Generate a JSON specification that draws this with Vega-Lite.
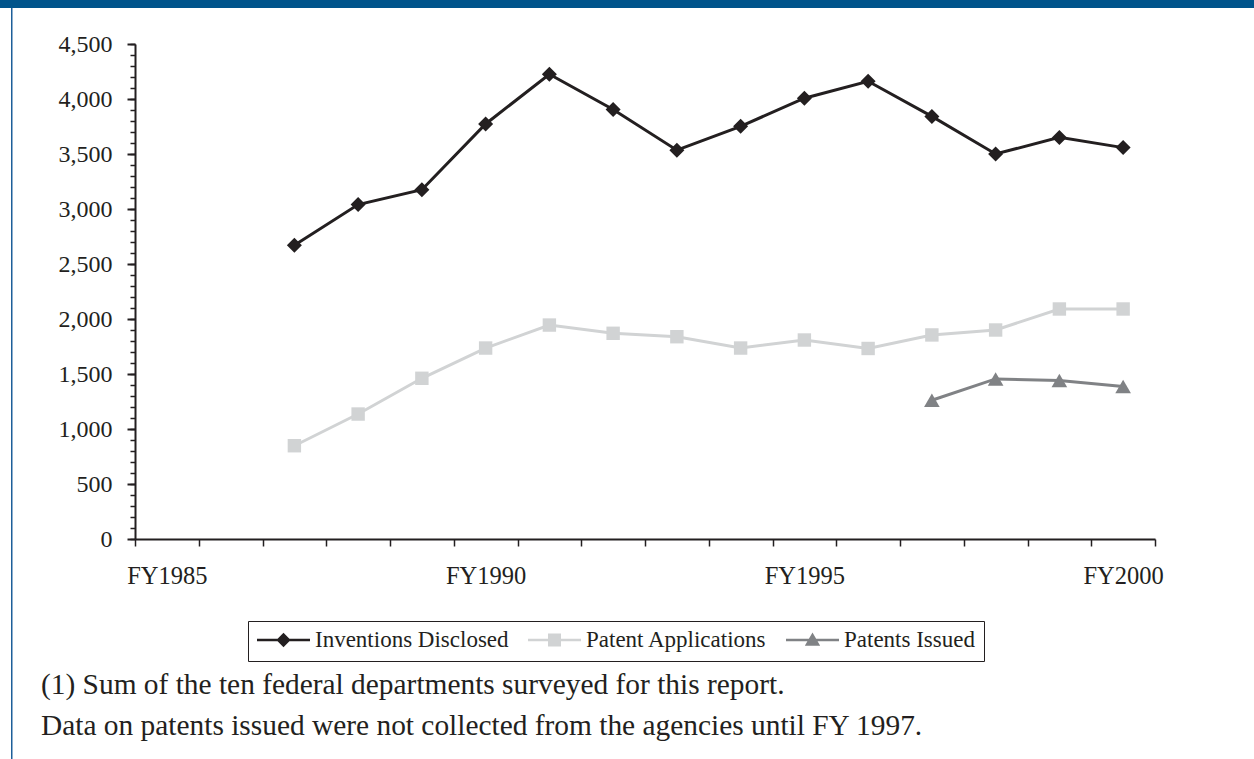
{
  "$schema": "https://vega.github.io/schema/vega-lite/v6.json",
  "padding": 0,
  "background": "white",
  "spacing": 0,
  "config": {"view": {"stroke": null}, "font": "Liberation Serif"},
  "vconcat": [
    {"width": 1254, "height": 8, "data": {"values": [{}]}, "mark": {"type": "text", "text": "", "fontSize": 1, "clip": true}, "encoding": {}, "view": {"fill": "#00548b", "stroke": null}},
    {
      "spacing": 0,
      "hconcat": [
        {"width": 11, "height": 751, "data": {"values": [{}]}, "mark": {"type": "text", "text": "", "fontSize": 1, "clip": true}, "encoding": {}},
        {"width": 1.5, "height": 751, "data": {"values": [{}]}, "mark": {"type": "text", "text": "", "fontSize": 1, "clip": true}, "encoding": {}, "view": {"fill": "#1d5f99", "stroke": null}},
        {"width": 27.5, "height": 751, "data": {"values": [{}]}, "mark": {"type": "text", "text": "", "fontSize": 1, "clip": true}, "encoding": {}},
        {
          "spacing": 0,
          "vconcat": [
            {"width": 1, "height": 23.5, "data": {"values": [{}]}, "mark": {"type": "text", "text": "", "fontSize": 1, "clip": true}, "encoding": {}},
            {
              "width": 1020,
              "height": 495,
              "data": {"values": [
                {"year": "FY1987", "series": "Inventions Disclosed", "value": 2670},
                {"year": "FY1988", "series": "Inventions Disclosed", "value": 3040},
                {"year": "FY1989", "series": "Inventions Disclosed", "value": 3175},
                {"year": "FY1990", "series": "Inventions Disclosed", "value": 3773},
                {"year": "FY1991", "series": "Inventions Disclosed", "value": 4225},
                {"year": "FY1992", "series": "Inventions Disclosed", "value": 3905},
                {"year": "FY1993", "series": "Inventions Disclosed", "value": 3535},
                {"year": "FY1994", "series": "Inventions Disclosed", "value": 3752},
                {"year": "FY1995", "series": "Inventions Disclosed", "value": 4007},
                {"year": "FY1996", "series": "Inventions Disclosed", "value": 4161},
                {"year": "FY1997", "series": "Inventions Disclosed", "value": 3842},
                {"year": "FY1998", "series": "Inventions Disclosed", "value": 3500},
                {"year": "FY1999", "series": "Inventions Disclosed", "value": 3651},
                {"year": "FY2000", "series": "Inventions Disclosed", "value": 3558},
                {"year": "FY1987", "series": "Patent Applications", "value": 848},
                {"year": "FY1988", "series": "Patent Applications", "value": 1136},
                {"year": "FY1989", "series": "Patent Applications", "value": 1461},
                {"year": "FY1990", "series": "Patent Applications", "value": 1736},
                {"year": "FY1991", "series": "Patent Applications", "value": 1945},
                {"year": "FY1992", "series": "Patent Applications", "value": 1870},
                {"year": "FY1993", "series": "Patent Applications", "value": 1839},
                {"year": "FY1994", "series": "Patent Applications", "value": 1736},
                {"year": "FY1995", "series": "Patent Applications", "value": 1809},
                {"year": "FY1996", "series": "Patent Applications", "value": 1732},
                {"year": "FY1997", "series": "Patent Applications", "value": 1855},
                {"year": "FY1998", "series": "Patent Applications", "value": 1900},
                {"year": "FY1999", "series": "Patent Applications", "value": 2091},
                {"year": "FY2000", "series": "Patent Applications", "value": 2091},
                {"year": "FY1997", "series": "Patents Issued", "value": 1261},
                {"year": "FY1998", "series": "Patents Issued", "value": 1455},
                {"year": "FY1999", "series": "Patents Issued", "value": 1441},
                {"year": "FY2000", "series": "Patents Issued", "value": 1386}
              ]},
              "title": {
                "text": ["(1) Sum of the ten federal departments surveyed for this report.", "Data on patents issued were not collected from the agencies until FY 1997."],
                "orient": "bottom", "anchor": "start", "frame": "group", "dx": -94, "offset": 83,
                "font": "Liberation Serif", "fontSize": 29.4, "fontWeight": "normal", "color": "#231f20", "lineHeight": 41
              },
              "layer": [
                {
                  "transform": [{"filter": "datum.series == 'Inventions Disclosed'"}],
                  "mark": {"type": "line", "strokeWidth": 3, "color": "#231f20"},
                  "encoding": {
                    "x": {
                      "field": "year", "type": "ordinal",
                      "scale": {"type": "band", "domain": ["FY1985","FY1986","FY1987","FY1988","FY1989","FY1990","FY1991","FY1992","FY1993","FY1994","FY1995","FY1996","FY1997","FY1998","FY1999","FY2000"], "paddingInner": 0, "paddingOuter": 0},
                      "axis": {
                        "title": null, "grid": false, "tickBand": "extent", "labelAngle": 0, "labelOverlap": false,
                        "labelExpr": "(datum.value == 'FY1985' || datum.value == 'FY1990' || datum.value == 'FY1995' || datum.value == 'FY2000') ? datum.value : ''",
                        "labelFont": "Liberation Serif", "labelFontSize": 24.5, "labelColor": "#231f20", "labelPadding": 18,
                        "tickSize": 7, "tickWidth": 1.5, "tickColor": "#231f20", "domainColor": "#231f20", "domainWidth": 2
                      }
                    },
                    "y": {
                      "field": "value", "type": "quantitative",
                      "scale": {"domain": [0, 4500], "nice": false},
                      "axis": {
                        "orient": "left", "title": null, "grid": false, "tickCount": 9, "format": ",d",
                        "labelFont": "Liberation Serif", "labelFontSize": 24, "labelColor": "#231f20", "labelPadding": 15,
                        "tickSize": 8, "tickWidth": 2, "tickColor": "#231f20", "domainColor": "#231f20", "domainWidth": 2
                      }
                    }
                  }
                },
                {
                  "transform": [{"filter": "datum.series == 'Patent Applications'"}],
                  "mark": {"type": "line", "strokeWidth": 3, "color": "#d1d3d4"},
                  "encoding": {
                    "x": {"field": "year", "type": "ordinal"},
                    "y": {"field": "value", "type": "quantitative", "axis": null}
                  }
                },
                {
                  "transform": [{"filter": "datum.series == 'Patents Issued'"}],
                  "mark": {"type": "line", "strokeWidth": 3, "color": "#808285"},
                  "encoding": {
                    "x": {"field": "year", "type": "ordinal"},
                    "y": {"field": "value", "type": "quantitative", "axis": null}
                  }
                },
                {
                  "transform": [{"filter": "datum.series == 'Inventions Disclosed'"}],
                  "mark": {"type": "point", "shape": "diamond", "filled": true, "size": 225, "opacity": 1, "color": "#231f20"},
                  "encoding": {
                    "x": {"field": "year", "type": "ordinal"},
                    "y": {"field": "value", "type": "quantitative", "axis": null}
                  }
                },
                {
                  "transform": [{"filter": "datum.series == 'Patent Applications'"}],
                  "mark": {"type": "point", "shape": "square", "filled": true, "size": 180, "opacity": 1, "color": "#d1d3d4"},
                  "encoding": {
                    "x": {"field": "year", "type": "ordinal"},
                    "y": {"field": "value", "type": "quantitative", "axis": null}
                  }
                },
                {
                  "transform": [{"filter": "datum.series == 'Patents Issued'"}],
                  "mark": {"type": "point", "shape": "triangle-up", "filled": true, "size": 245, "opacity": 1, "color": "#808285"},
                  "encoding": {
                    "x": {"field": "year", "type": "ordinal"},
                    "y": {"field": "value", "type": "quantitative", "axis": null}
                  }
                },
                {
                  "mark": {"type": "point", "filled": true, "opacity": 0},
                  "encoding": {
                    "x": {"field": "year", "type": "ordinal"},
                    "y": {"field": "value", "type": "quantitative", "axis": null},
                    "color": {
                      "field": "series", "type": "nominal",
                      "scale": {"domain": ["Inventions Disclosed", "Patent Applications", "Patents Issued"], "range": ["#231f20", "#d1d3d4", "#808285"]},
                      "legend": {
                        "orient": "none", "legendX": 248, "legendY": 621, "direction": "horizontal", "columns": 3, "title": null,
                        "symbolSize": 2809, "clipHeight": 20, "symbolOpacity": 1, "symbolStrokeWidth": 0,
                        "labelFont": "Liberation Serif", "labelFontSize": 23, "labelColor": "#231f20", "labelOffset": 5, "labelLimit": 400,
                        "columnPadding": 19, "padding": 9, "strokeColor": "#231f20", "cornerRadius": 0
                      }
                    },
                    "shape": {
                      "field": "series", "type": "nominal",
                      "scale": {
                        "domain": ["Inventions Disclosed", "Patent Applications", "Patents Issued"],
                        "range": [
                          "M-1,-0.05H1V0.05H-1Z M0,-0.27L0.27,0L0,0.27L-0.27,0Z",
                          "M-1,-0.05H1V0.05H-1Z M-0.245,-0.245H0.245V0.245H-0.245Z",
                          "M-1,-0.05H1V0.05H-1Z M0,-0.28L0.29,0.22H-0.29Z"
                        ]
                      },
                      "legend": {
                        "orient": "none", "legendX": 248, "legendY": 621, "direction": "horizontal", "columns": 3, "title": null,
                        "symbolSize": 2809, "clipHeight": 20, "symbolOpacity": 1, "symbolStrokeWidth": 0,
                        "labelFont": "Liberation Serif", "labelFontSize": 23, "labelColor": "#231f20", "labelOffset": 5, "labelLimit": 400,
                        "columnPadding": 19, "padding": 9, "strokeColor": "#231f20", "cornerRadius": 0
                      }
                    }
                  }
                },
                {
                  "mark": {"type": "point", "opacity": 0},
                  "encoding": {
                    "x": {"field": "year", "type": "ordinal"},
                    "y": {
                      "field": "value", "type": "quantitative",
                      "axis": {"orient": "left", "title": null, "grid": false, "tickCount": 45, "labels": false, "domain": false, "tickSize": 5, "tickWidth": 1.5, "tickColor": "#231f20"}
                    }
                  }
                }
              ],
              "resolve": {"axis": {"y": "independent"}}
            }
          ]
        }
      ]
    }
  ]
}
